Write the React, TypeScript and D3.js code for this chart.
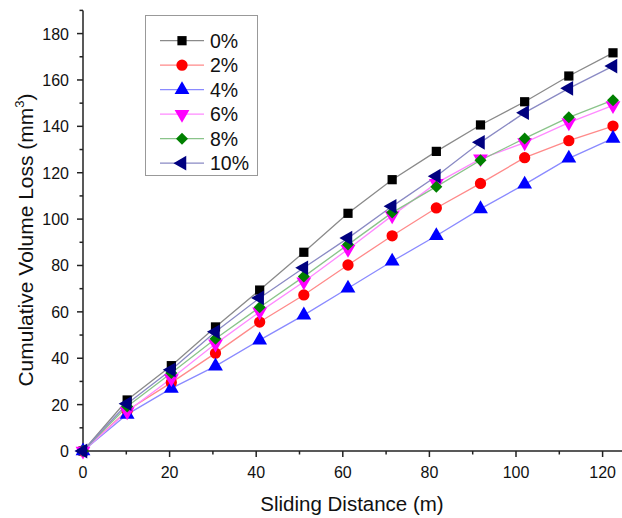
import React from "react";
import * as d3 from "d3";

const distances = [0, 10.2, 20.4, 30.6, 40.8, 51, 61.2, 71.4, 81.6, 91.8, 102, 112.2, 122.4];
const labels = ["0%", "2%", "4%", "6%", "8%", "10%"];
const s0 = [0, 22, 36.8, 53.5, 69.4, 85.7, 102.5, 117, 129.2, 140.6, 150.6, 161.7, 171.7];
const s2 = [0, 17.5, 29.5, 42.2, 55.6, 67.3, 80.2, 92.8, 104.8, 115.4, 126.5, 133.8, 140.1];
const s4 = [0, 15.8, 27, 36.6, 47.8, 58.6, 70.2, 81.8, 92.8, 104.4, 115, 126.2, 134.8];
const s6 = [0, 17, 31.3, 46.2, 60, 73, 87, 101.5, 115.5, 126, 133, 141.6, 149];
const s8 = [0, 19.2, 33.6, 48.4, 62, 75.2, 89, 102.8, 114, 125.4, 134.8, 143.9, 151.3];
const s10 = [0, 20.4, 35, 51.4, 66, 79, 91.8, 105.5, 118.5, 133.1, 145.9, 156.4, 166];
const seriesValues = [s0, s2, s4, s6, s8, s10];
const xMajorTicks = [0, 20, 40, 60, 80, 100, 120];
const yMajorTicks = [0, 20, 40, 60, 80, 100, 120, 140, 160, 180];

const markerColors = ["#000000", "#ff0000", "#0000ff", "#ff00ff", "#008000", "#000080"];
const lineColors = ["#8a8a8a", "#ff8a8a", "#8a8aff", "#ff8aff", "#8ac48a", "#8a8ac4"];

const W = 622;
const H = 518;
const x = d3.scaleLinear().domain([0, 130]).range([83, 83 + 130 * 4.33]);
const y = d3.scaleLinear().domain([0, 190]).range([451, 451 - 190 * 2.319]);

const squareP = d3.symbol().type(d3.symbolSquare).size(85)()!;
const circleP = d3.symbol().type(d3.symbolCircle).size(100)()!;
const triP = d3.symbol().type(d3.symbolTriangle).size(95)()!;
const diamondP = d3.symbol().type(d3.symbolSquare).size(72)()!;

function Marker({ i, cx, cy }: { i: number; cx: number; cy: number }) {
  const fill = markerColors[i];
  let d = squareP;
  let rot = 0;
  if (i === 1) d = circleP;
  if (i === 2) d = triP;
  if (i === 3) { d = triP; rot = 180; }
  if (i === 4) { d = diamondP; rot = 45; }
  if (i === 5) { d = triP; rot = -90; }
  return <path d={d} fill={fill} transform={`translate(${cx},${cy}) rotate(${rot})`} />;
}

export default function App() {
  const line = d3.line<number>().x((_, k) => x(distances[k])).y((v) => y(v));
  const xMinor = d3.range(10, 131, 20);
  const yMinor = d3.range(10, 191, 20);
  const font = "Liberation Sans, Arial, sans-serif";
  return (
    <div style={{ position: "absolute", left: 0, top: 0 }}>
      <svg width={W} height={H} style={{ display: "block", background: "#fff" }} fontFamily={font}>
        {/* axes */}
        <line x1={x(0)} x2={x(0)} y1={y(0)} y2={y(190)} stroke="#222" strokeWidth={1.5} />
        <line x1={x(0)} x2={W} y1={y(0)} y2={y(0)} stroke="#222" strokeWidth={1.5} />
        {xMajorTicks.map((t) => (
          <g key={"xt" + t}>
            <line x1={x(t)} x2={x(t)} y1={y(0)} y2={y(0) + 6} stroke="#222" strokeWidth={1.5} />
            <text x={x(t)} y={y(0) + 27} fontSize={16} textAnchor="middle" fill="#111">{t}</text>
          </g>
        ))}
        {xMinor.map((t) => (
          <line key={"xm" + t} x1={x(t)} x2={x(t)} y1={y(0)} y2={y(0) + 3.5} stroke="#222" strokeWidth={1.5} />
        ))}
        {yMajorTicks.map((t) => (
          <g key={"yt" + t}>
            <line x1={x(0) - 6} x2={x(0)} y1={y(t)} y2={y(t)} stroke="#222" strokeWidth={1.5} />
            <text x={x(0) - 14} y={y(t) + 6} fontSize={16} textAnchor="end" fill="#111">{t}</text>
          </g>
        ))}
        {yMinor.map((t) => (
          <line key={"ym" + t} x1={x(0) - 3.5} x2={x(0)} y1={y(t)} y2={y(t)} stroke="#222" strokeWidth={1.5} />
        ))}
        <text x={352} y={511} fontSize={20.5} textAnchor="middle" fill="#111">Sliding Distance (m)</text>
        <text transform="translate(33,240) rotate(-90)" fontSize={21} textAnchor="middle" fill="#111">
          Cumulative Volume Loss (mm<tspan dy={-9} fontSize={13}>3</tspan><tspan dy={9}>)</tspan>
        </text>
        {/* series lines */}
        {seriesValues.map((vals, i) => (
          <path key={"l" + i} d={line(vals)!} fill="none" stroke={lineColors[i]} strokeWidth={1.3} />
        ))}
        {/* markers */}
        {seriesValues.map((vals, i) => (
          <g key={"m" + i}>
            {vals.map((v, k) => (
              <Marker key={k} i={i} cx={x(distances[k])} cy={y(v)} />
            ))}
          </g>
        ))}
        {/* legend */}
        <rect x={145.5} y={15.5} width={112} height={160} fill="#fff" stroke="#999" strokeWidth={1} />
        {labels.map((lab, i) => {
          const ly = 40.7 + i * 24.5;
          return (
            <g key={"lg" + i}>
              <line x1={160} x2={204} y1={ly} y2={ly} stroke={lineColors[i]} strokeWidth={1.3} />
              <Marker i={i} cx={182} cy={ly} />
              <text x={210} y={ly + 7} fontSize={19.5} fill="#111">{lab}</text>
            </g>
          );
        })}
      </svg>
    </div>
  );
}
